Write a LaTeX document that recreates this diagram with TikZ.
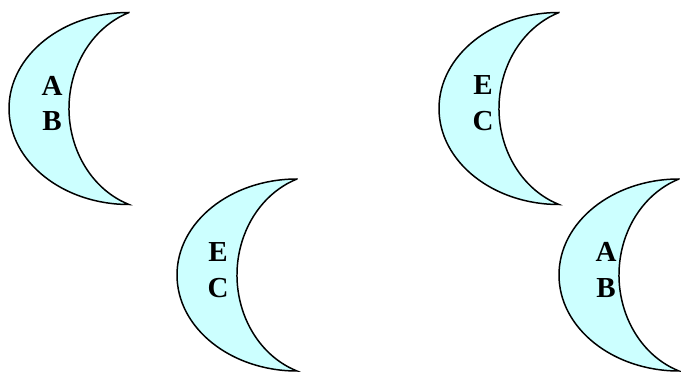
\documentclass[tikz,border=0pt]{standalone}
\usepackage{fontspec}
\setmainfont{Liberation Serif}
\definecolor{moonfill}{HTML}{CCFFFF}
\tikzset{
  moon/.style={draw=black, fill=moonfill, line width=0.85pt, line join=miter},
  letters/.style={align=center, inner sep=0pt, font=\fontsize{16.5}{20.4}\selectfont\bfseries}
}
\begin{document}
\begin{tikzpicture}[x=0.02cm, y=0.02cm]
    \useasboundingbox (0,0) rectangle (681,372);
    % tip centres of the four crescents
    \coordinate (M1) at (129,263.5);
    \coordinate (M2) at (297,97);
    \coordinate (M3) at (559,263.5);
    \coordinate (M4) at (679,97);

    \foreach \m in {M1,M2,M3,M4}
      \draw[moon] (\m) ++(0,96) arc[start angle=90, end angle=270, x radius=120, y radius=96]
        arc[start angle=250.53, end angle=109.47, x radius=90, y radius=101.82] -- cycle;

    \node[letters] (AB1) at ([shift={(-77,5)}]M1) {A\\B};
    \node[letters] (EC1) at ([shift={(-79,5)}]M2) {E\\C};
    \node[letters] (EC2) at ([shift={(-76,5)}]M3) {E\\C};
    \node[letters] (AB2) at ([shift={(-73,5)}]M4) {A\\B};
  \end{tikzpicture}
\end{document}
